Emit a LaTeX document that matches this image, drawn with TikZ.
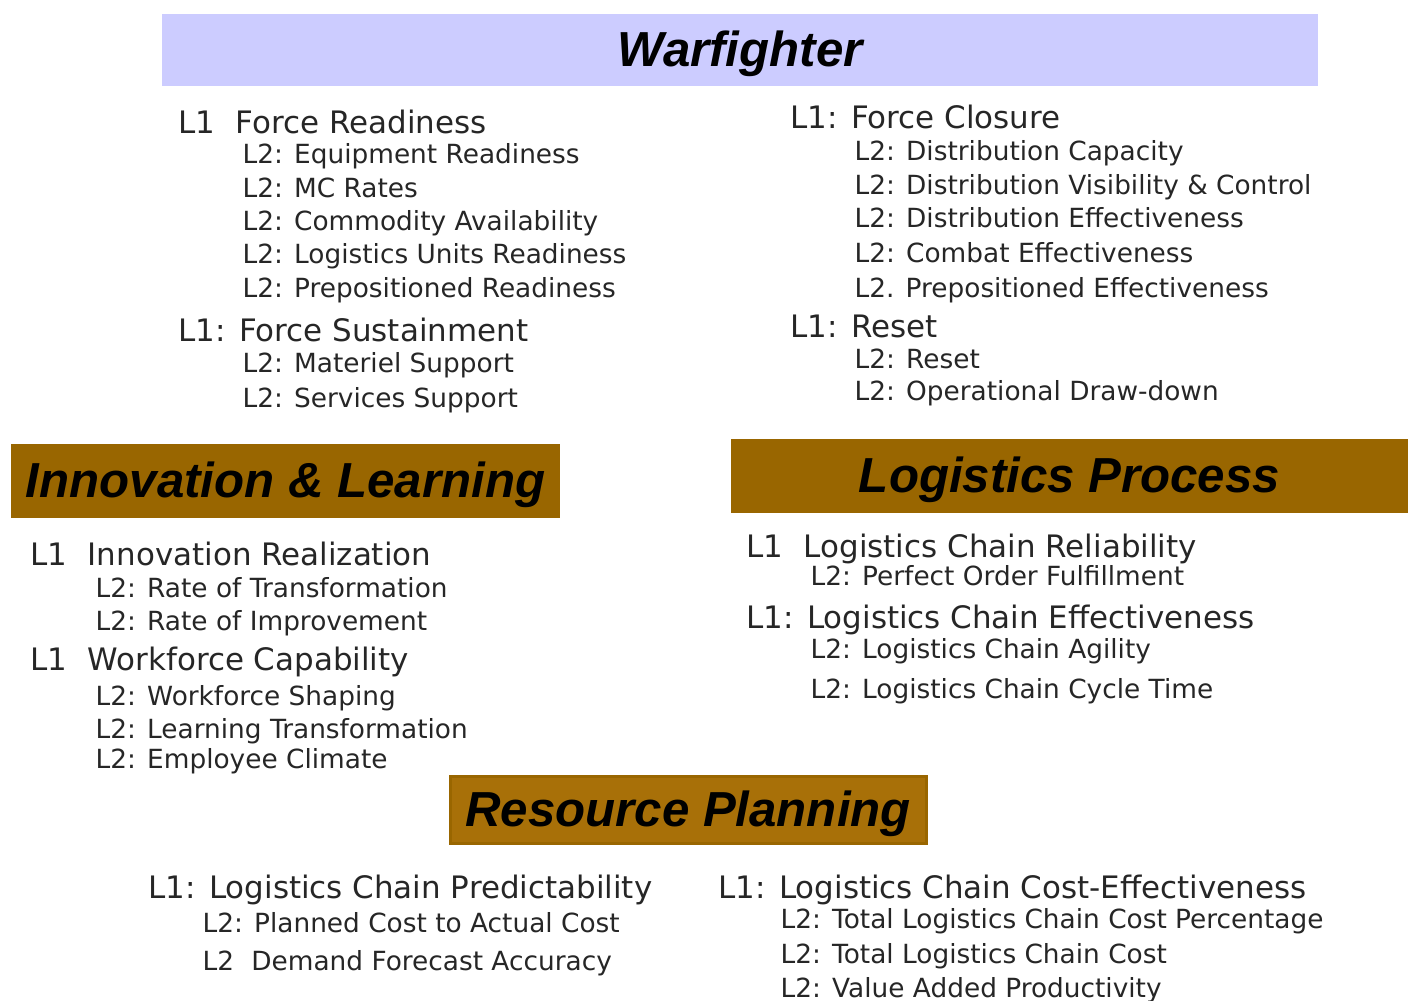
\documentclass[tikz,border=0pt]{standalone}
\usepackage{fontspec}
\setmainfont{DejaVu Sans}
\newfontfamily\headfont{Liberation Sans}
\usepackage{tikz}
\definecolor{wfblue}{RGB}{204,204,255}
\definecolor{ochre}{RGB}{153,102,0}
\definecolor{ochrelight}{RGB}{168,112,8}

\begin{document}
\begin{tikzpicture}[x=0.1mm, y=-0.1mm,
			bar/.style={
				fill=ochre,
				inner sep=0pt,
				text=black,
				text height=3.9mm,
				text depth=0.6mm,
				font=\headfont\fontsize{14}{16}\selectfont\bfseries\itshape},
			levone/.style={
				anchor=base west,
				inner sep=0pt,
				text=black!85,
				font=\fontsize{8.8}{10}\selectfont},
			levtwo/.style={
				anchor=base west,
				inner sep=0pt,
				text=black!85,
				font=\fontsize{7.5}{9}\selectfont}]
			\useasboundingbox (0, 0) rectangle (1408, 1000);
			% headers
			\node (wf) at (740, 50) [bar, fill=wfblue, minimum width=115.6mm, minimum height=7.2mm] {Warfighter};
			\node (il) at (285.5, 481) [bar, minimum width=54.9mm, minimum height=7.4mm] {Innovation \& Learning};
			\node (lp) at (1069.5, 476) [bar, minimum width=67.7mm, minimum height=7.4mm] {Logistics Process};
			\node (rp) at (688, 809.5) [bar, fill=ochrelight, draw=ochre, line width=0.3mm, minimum width=47.6mm, minimum height=6.7mm] {Resource Planning};
			% warfighter, left
			\node (fr) at (178, 133) [levone] {L1\phantom{:} Force Readiness};
			\node (fr1) at (242, 163) [levtwo] {L2: Equipment Readiness};
			\node (fr2) at (242, 197) [levtwo] {L2: MC Rates};
			\node (fr3) at (242, 230) [levtwo] {L2: Commodity Availability};
			\node (fr4) at (242, 263) [levtwo] {L2: Logistics Units Readiness};
			\node (fr5) at (242, 297) [levtwo] {L2: Prepositioned Readiness};
			\node (fs) at (178, 341) [levone] {L1: Force Sustainment};
			\node (fs1) at (242, 372) [levtwo] {L2: Materiel Support};
			\node (fs2) at (242, 407) [levtwo] {L2: Services Support};
			% warfighter, right
			\node (fc) at (790, 128) [levone] {L1: Force Closure};
			\node (fc1) at (854, 160) [levtwo] {L2: Distribution Capacity};
			\node (fc2) at (854, 194) [levtwo] {L2: Distribution Visibility \& Control};
			\node (fc3) at (854, 227) [levtwo] {L2: Distribution Effectiveness};
			\node (fc4) at (854, 262) [levtwo] {L2: Combat Effectiveness};
			\node (fc5) at (854, 297) [levtwo] {L2. Prepositioned Effectiveness};
			\node (rs) at (790, 337) [levone] {L1: Reset};
			\node (rs1) at (854, 368) [levtwo] {L2: Reset};
			\node (rs2) at (854, 400) [levtwo] {L2: Operational Draw-down};
			% innovation & learning
			\node (ir) at (30, 565) [levone] {L1\phantom{:} Innovation Realization};
			\node (ir1) at (95, 597) [levtwo] {L2: Rate of Transformation};
			\node (ir2) at (95, 630) [levtwo] {L2: Rate of Improvement};
			\node (wc) at (30, 670) [levone] {L1\phantom{:} Workforce Capability};
			\node (wc1) at (95, 705) [levtwo] {L2: Workforce Shaping};
			\node (wc2) at (95, 738) [levtwo] {L2: Learning Transformation};
			\node (wc3) at (95, 768) [levtwo] {L2: Employee Climate};
			% logistics process
			\node (lr) at (746, 557) [levone] {L1\phantom{:} Logistics Chain Reliability};
			\node (lr1) at (810, 585) [levtwo] {L2: Perfect Order Fulfillment};
			\node (le) at (746, 628) [levone] {L1: Logistics Chain Effectiveness};
			\node (le1) at (810, 658) [levtwo] {L2: Logistics Chain Agility};
			\node (le2) at (810, 698) [levtwo] {L2: Logistics Chain Cycle Time};
			% resource planning
			\node (pr) at (148, 898) [levone] {L1: Logistics Chain Predictability};
			\node (pr1) at (202, 932) [levtwo] {L2: Planned Cost to Actual Cost};
			\node (pr2) at (202, 970) [levtwo] {L2\phantom{:} Demand Forecast Accuracy};
			\node (ce) at (718, 898) [levone] {L1: Logistics Chain Cost-Effectiveness};
			\node (ce1) at (780, 928) [levtwo] {L2: Total Logistics Chain Cost Percentage};
			\node (ce2) at (780, 963) [levtwo] {L2: Total Logistics Chain Cost};
			\node (ce3) at (780, 997) [levtwo] {L2: Value Added Productivity};
			\end{tikzpicture}
\end{document}
